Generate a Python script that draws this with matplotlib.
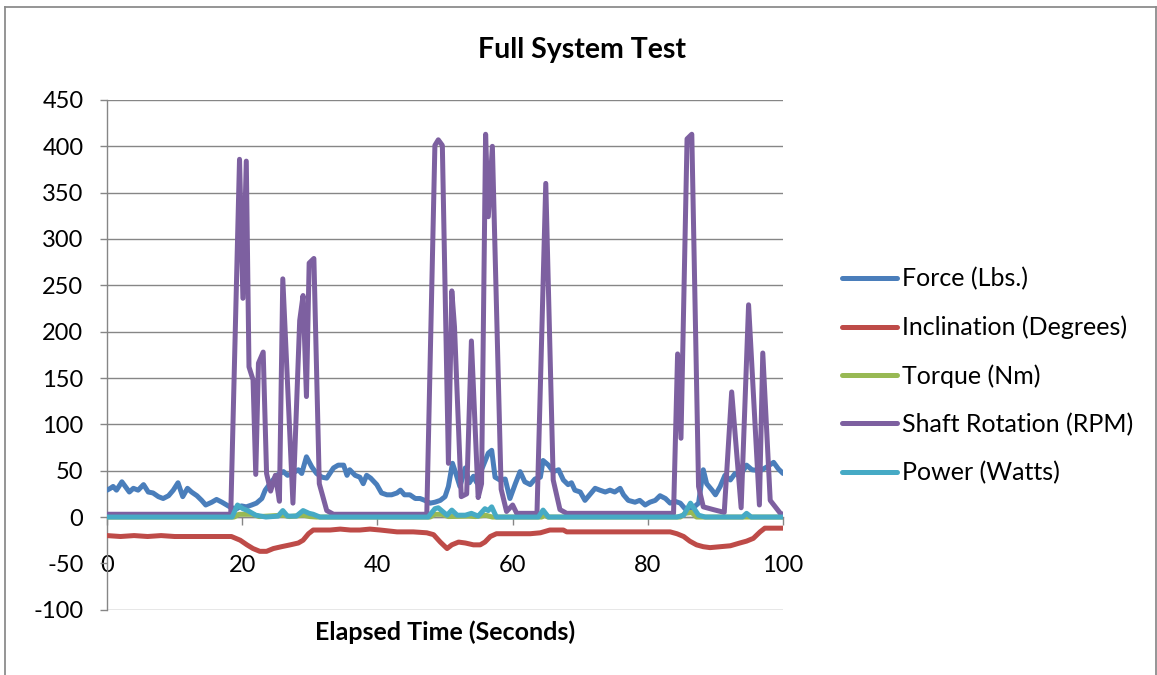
import matplotlib
matplotlib.use("Agg")
import matplotlib.pyplot as plt
from matplotlib.lines import Line2D

# === Series (time in seconds, value) ===
force_t = [0.0, 0.5, 0.9, 1.4, 2.2, 2.7, 3.3, 3.9, 4.6, 5.4, 6.1, 6.8, 7.6, 8.3, 9.1, 9.8,
           10.5, 11.2, 11.9, 12.5, 13.3, 14.0, 14.6, 15.5, 16.2, 17.0, 17.7, 18.4, 19.2, 19.9,
           20.6, 21.4, 22.1, 22.9, 23.4, 24.1, 25.1, 26.1, 26.7, 27.4, 28.3, 28.8, 29.5, 30.3,
           31.0, 31.8, 32.5, 33.5, 34.2, 35.0, 35.5, 35.9, 36.7, 37.4, 37.9, 38.4, 39.0, 39.9,
           40.6, 41.4, 42.1, 42.9, 43.4, 44.0, 44.8, 45.6, 46.3, 47.0, 47.8, 48.5, 49.3, 50.0,
           50.5, 51.1, 51.6, 52.2, 53.0, 53.6, 54.2, 54.7, 55.4, 56.4, 56.9, 57.4, 58.1, 58.9,
           59.6, 60.4, 61.1, 61.8, 62.6, 63.3, 64.1, 64.5, 65.3, 66.0, 66.8, 67.5, 68.2, 68.7,
           69.2, 70.0, 70.7, 71.4, 72.2, 72.9, 73.7, 74.4, 75.1, 75.9, 76.4, 77.1, 78.1, 78.8,
           79.6, 80.3, 81.1, 81.8, 82.6, 83.3, 84.0, 84.8, 85.5, 86.7, 87.5, 88.2, 88.7, 89.5,
           90.0, 90.7, 91.4, 92.2, 92.9, 93.6, 94.6, 95.4, 96.6, 97.6, 98.6, 99.3, 100.0]
force_v = [29, 31, 33, 29, 38, 33, 27, 31, 29, 35, 27, 26, 22, 20, 23, 29,
           37, 22, 31, 27, 23, 18, 13, 16, 19, 16, 13, 10, 9, 12,
           11, 13, 15, 20, 29, 36, 45, 49, 45, 47, 51, 47, 65, 54,
           47, 43, 42, 53, 56, 56, 45, 51, 45, 43, 36, 45, 42, 35,
           26, 24, 24, 26, 29, 24, 24, 20, 20, 18, 15, 16, 18, 22,
           33, 58, 47, 33, 53, 37, 44, 37, 51, 69, 72, 43, 40, 41,
           20, 36, 49, 38, 35, 41, 43, 61, 56, 49, 51, 40, 35, 37,
           29, 27, 18, 24, 31, 29, 27, 29, 27, 31, 24, 18, 16, 18,
           13, 16, 18, 23, 20, 15, 17, 15, 9, 10, 15, 51, 36, 29,
           24, 33, 45, 40, 47, 44, 56, 51, 50, 54, 59, 52, 47]

incl_t = [0, 2, 4, 6, 8, 10, 12, 14, 16, 18.4, 19.7, 20.7, 21.6, 22.6, 23.6, 24.6, 25.8,
          27.1, 28.3, 29.0, 29.8, 30.5, 31.5, 33.0, 34.5, 36.0, 37.4, 38.9, 40.4, 42.9, 45.3,
          47.3, 48.3, 49.3, 50.3, 51.0, 52.0, 53.0, 54.2, 55.2, 55.9, 56.7, 57.6, 60.6, 62.6,
          64.1, 65.5, 67.5, 68.0, 74.4, 79.3, 83.3, 84.3, 85.3, 86.2, 87.2, 88.2, 89.2, 90.7,
          92.2, 93.6, 94.6, 95.6, 96.6, 97.3, 100]
incl_v = [-20, -21, -20, -21, -20, -21, -21, -21, -21, -21, -25, -30, -34, -37, -37, -34, -32,
          -30, -28, -25, -18, -14, -14, -14, -13, -14, -14, -13, -14, -16, -16,
          -17, -19, -27, -34, -30, -27, -28, -30, -30, -27, -21, -18, -18, -18,
          -17, -14, -14, -16, -16, -16, -16, -18, -21, -26, -30, -32, -33, -32,
          -31, -28, -26, -23, -16, -12, -12]

torque_t = [0, 18.8, 19.5, 21.5, 22.5, 26.0, 27.0, 29.0, 30.0, 31.0, 47.8, 48.5, 49.5, 50.5,
            53.5, 54.5, 56.0, 57.0, 64.3, 64.7, 65.2, 84.8, 85.5, 86.5, 87.2, 100]
torque_v = [0, 0, 3, 3, 0.5, 2, 0.5, 2, 0.5, 0, 0, 3, 3, 0.5,
            1, 0.5, 2, 0, 0, 2, 0, 0, 4, 5, 0, 0]

rpm_t = [0, 18.3, 19.6, 20.1, 20.6, 21.0, 21.6, 22.0, 22.4, 23.1, 23.6, 24.2, 24.9, 25.5,
         26.0, 27.5, 28.5, 29.0, 29.5, 29.9, 30.6, 31.4, 32.5, 33.5, 47.3, 48.5, 49.0, 49.6,
         50.5, 51.0, 51.4, 52.4, 53.2, 53.9, 54.9, 55.4, 56.0, 56.4, 57.0, 58.3, 59.1, 60.0,
         60.6, 63.6, 64.9, 66.0, 67.0, 68.0, 83.8, 84.4, 84.9, 85.8, 86.5, 87.5, 88.2, 89.7,
         91.3, 92.4, 93.8, 94.9, 96.5, 97.0, 98.1, 99.6, 100]
rpm_v = [3, 3, 386, 236, 384, 162, 148, 46, 166, 178, 47, 28, 45, 17,
         257, 15, 212, 239, 130, 274, 279, 36, 7, 3, 3, 401, 407, 401,
         58, 244, 205, 22, 25, 190, 21, 36, 413, 324, 400, 30, 6, 13,
         4, 4, 360, 40, 8, 4, 4, 176, 85, 408, 413, 33, 11, 8,
         5, 135, 10, 229, 13, 177, 18, 4, 3]

power_t = [0, 18.5, 19.3, 20.1, 20.8, 22.0, 23.5, 25.3, 26.0, 26.7, 28.0, 29.0, 29.9, 30.5,
           31.5, 47.5, 48.5, 49.0, 50.3, 51.0, 51.8, 53.0, 53.9, 54.9, 55.9, 56.4, 56.9, 57.6,
           63.8, 64.5, 65.3, 84.3, 85.3, 86.3, 87.5, 88.5, 94.0, 94.6, 95.3, 100]
power_v = [0, 0, 13, 9, 7, 2, 0, 1, 7, 1, 1, 7, 4, 3,
           0, 0, 9, 10, 2, 7.5, 2, 2, 4, 1, 9, 7, 11, 0,
           0, 7.5, 0, 0, 2, 15, 2, 0, 0, 4, 0, 0]

labels = ["Force (Lbs.)", "Inclination (Degrees)", "Torque (Nm)",
          "Shaft Rotation (RPM)", "Power (Watts)"]
colors = ["#4A7EBB", "#BE4B48", "#98B954", "#7D60A0", "#46AAC5"]

x_ticks = [0, 20, 40, 60, 80, 100]
y_ticks = [-100, -50, 0, 50, 100, 150, 200, 250, 300, 350, 400, 450]

plt.rcParams['font.family'] = ['Lato', 'DejaVu Sans']
plt.rcParams['axes.unicode_minus'] = False
GRID = "#868686"

fig = plt.figure(figsize=(11.57, 6.75), dpi=100)
ax = fig.add_axes([0.0925, 0.0967, 0.5843, 0.7552])

series = [(force_t, force_v), (incl_t, incl_v), (torque_t, torque_v),
          (rpm_t, rpm_v), (power_t, power_v)]
for (t, v), lab, c in zip(series, labels, colors):
    ax.plot(t, v, color=c, lw=3.6, label=lab,
            solid_joinstyle='round', solid_capstyle='round', zorder=3)

ax.set_xlim(0, 100)
ax.set_ylim(-100, 450)
ax.set_xticks(x_ticks)
ax.set_yticks(y_ticks)

# horizontal axis sits at zero, Excel style
ax.spines['bottom'].set_position(('data', 0))
for s in ['top', 'right']:
    ax.spines[s].set_visible(False)
for s in ['left', 'bottom']:
    ax.spines[s].set_color(GRID)
    ax.spines[s].set_linewidth(1.0)
    ax.spines[s].set_zorder(2)

ax.yaxis.grid(True, color=GRID, lw=1.0, zorder=1)
ax.set_axisbelow(True)
for val, gl in zip(y_ticks, ax.get_ygridlines()):
    if val == -50:
        gl.set_visible(False)

ax.tick_params(axis='y', direction='out', length=5, width=1.0, color=GRID,
               labelsize=17, pad=12)
ax.tick_params(axis='x', direction='out', length=6, width=1.0, color=GRID,
               labelsize=17, pad=21)

leg = ax.legend(loc='center left', bbox_to_anchor=(0.7277, 0.443),
                bbox_transform=fig.transFigure, frameon=False, fontsize=18,
                handlelength=2.2, handletextpad=0.22, labelspacing=1.0,
                borderpad=0, borderaxespad=0)

fig.text(0.503, 0.926, "Full System Test", ha='center', va='center',
         fontsize=20.5, fontweight='bold')
fig.text(0.385, 0.063, "Elapsed Time (Seconds)", ha='center', va='center',
         fontsize=18, fontweight='bold')

# chart frame
for xs, ys in [([0.0043, 0.0043], [0.0, 0.9896]),
               ([0.0043, 0.9991], [0.9896, 0.9896]),
               ([0.9991, 0.9991], [0.9896, 0.0])]:
    fig.add_artist(Line2D(xs, ys, color="#8C8C8C", lw=1.3, transform=fig.transFigure))

fig.savefig("out.png", dpi=100)
